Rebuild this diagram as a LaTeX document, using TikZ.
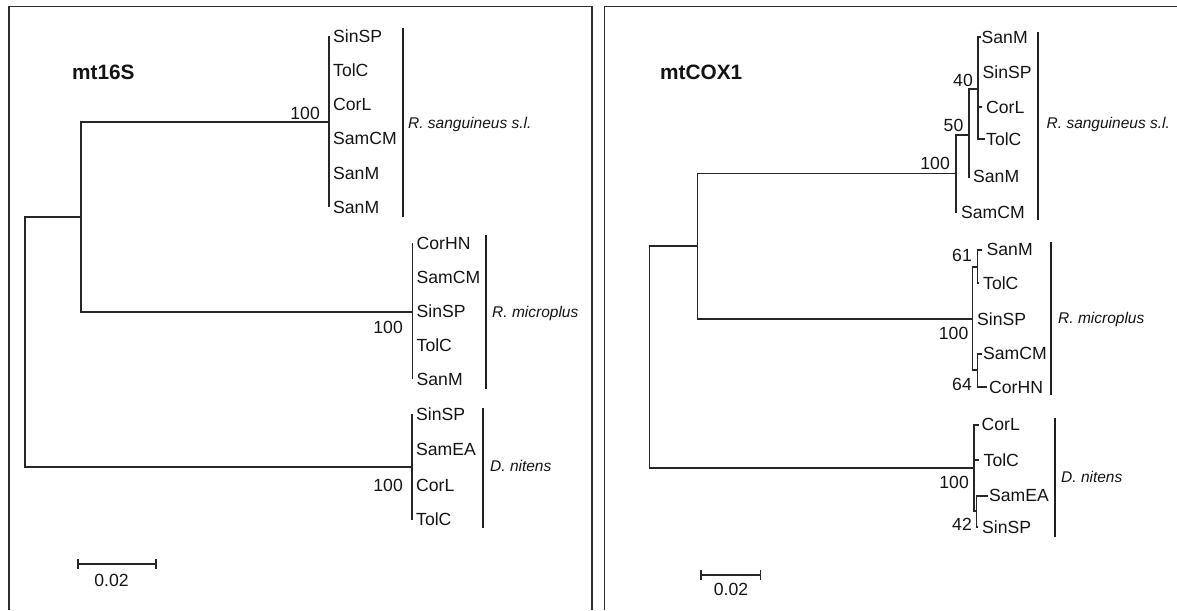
\documentclass[tikz,border=0pt]{standalone}
\usepackage{fontspec}
\setmainfont{Liberation Sans}
\newcommand\fTip{\fontsize{17.6}{20}\selectfont}
\newcommand\fClade{\fontsize{15.5}{18}\selectfont\itshape}
\newcommand\fTitle{\fontsize{20.8}{24}\selectfont\bfseries}
\tikzset{
  tree/.style={line width=1.2pt, draw=black!85},
  cbar/.style={line width=2.3pt, draw=black!88},
  frame/.style={line width=1.5pt, draw=black!82},
  tip/.style={anchor=west, inner sep=0pt, font=\fTip, text=black!92, text height=12.7pt, text depth=0pt},
  boot/.style={anchor=east, inner sep=0pt, font=\fTip, text=black!92, text height=12.6pt, text depth=0pt},
  clade/.style={anchor=west, inner sep=0pt, font=\fClade, text=black!92, text height=11.1pt, text depth=0pt},
  ttl/.style={anchor=west, inner sep=0pt, font=\fTitle, text=black!92, text height=14.9pt, text depth=0pt},
}
\begin{document}
\begin{tikzpicture}[x=1pt,y=-1pt]
\useasboundingbox (0,0) rectangle (1177,610);
% frames
\coordinate (fa1) at (9,610); \coordinate (fa2) at (9,6.5); \coordinate (fa3) at (592,6.5); \coordinate (fa4) at (592,610);
\draw[frame] (fa1) -- (fa2) -- (fa3) -- (fa4);
\coordinate (fb1) at (604.4,610); \coordinate (fb2) at (604.4,6.5); \coordinate (fb3) at (1177,6.5);
\draw[frame] (fb1) -- (fb2) -- (fb3);

% ================= LEFT: mt16S =================
\node[ttl] (t16) at (72,72) {mt16S};
\coordinate (Lroot) at (25,342);
\coordinate (LA) at (81,217);
\coordinate (LS) at (329,122);
\coordinate (LM) at (412.7,312);
\coordinate (LD) at (412,467);
\draw[tree] (LA) -| (Lroot) |- (LD);
\draw[tree] (LS) -| (LA) |- (LM);
% R. sanguineus
\coordinate (ls1) at (329,36); \coordinate (ls6) at (329,207);
\draw[tree] (ls1) -- (ls6);
\node[tip] (lsa) at (333,36) {SinSP};
\node[tip] (lsb) at (333,70.2) {TolC};
\node[tip] (lsc) at (333,104.4) {CorL};
\node[tip] (lsd) at (333,138.6) {SamCM};
\node[tip] (lse) at (333,172.8) {SanM};
\node[tip] (lsf) at (333,207) {SanM};
\node[boot] (lsbs) at (320,113) {100};
\coordinate (lsb1) at (403.3,28); \coordinate (lsb2) at (403.3,217);
\draw[cbar] (lsb1) -- (lsb2);
\node[clade] (lscl) at (408,123) {R. sanguineus s.l.};
% R. microplus
\coordinate (lm1) at (412.7,243); \coordinate (lm5) at (412.7,379);
\draw[tree] (lm1) -- (lm5);
\node[tip] (lma) at (416.5,243) {CorHN};
\node[tip] (lmb) at (416.5,277) {SamCM};
\node[tip] (lmc) at (416.5,311) {SinSP};
\node[tip] (lmd) at (416.5,345) {TolC};
\node[tip] (lme) at (416.5,379) {SanM};
\node[boot] (lmbs) at (403,327) {100};
\coordinate (lmb1) at (485.7,235); \coordinate (lmb2) at (485.7,389);
\draw[cbar] (lmb1) -- (lmb2);
\node[clade] (lmcl) at (492,312) {R. microplus};
% D. nitens
\coordinate (ld1) at (412,414); \coordinate (ld4) at (412,520);
\draw[tree] (ld1) -- (ld4);
\node[tip] (lda) at (416,414) {SinSP};
\node[tip] (ldb) at (416,449) {SamEA};
\node[tip] (ldc) at (416,485) {CorL};
\node[tip] (ldd) at (416,519) {TolC};
\node[boot] (ldbs) at (403,485) {100};
\coordinate (ldb1) at (483.3,408); \coordinate (ldb2) at (483.3,528);
\draw[cbar] (ldb1) -- (ldb2);
\node[clade] (ldcl) at (490,466) {D. nitens};
% scale
\coordinate (lsc1) at (78,564); \coordinate (lsc2) at (156,564);
\draw[tree] (lsc1) -- (lsc2);
\draw[tree] ([yshift=-5pt]lsc1) -- ([yshift=5pt]lsc1);
\draw[tree] ([yshift=-5pt]lsc2) -- ([yshift=5pt]lsc2);
\node[tip, anchor=center] (lscl) at (111.5,580) {0.02};

% ================= RIGHT: mtCOX1 =================
\node[ttl] (tcox) at (660,72) {mtCOX1};
\coordinate (Rroot) at (649.6,357);
\coordinate (RA) at (697.4,246);
\coordinate (RS) at (956,173.5);
\coordinate (R50) at (969,135);
\coordinate (R40) at (978,89);
\coordinate (RM) at (972.7,319);
\coordinate (R61) at (977.3,267);
\coordinate (R64) at (977.3,370);
\coordinate (RD) at (974,468);
\coordinate (R42) at (976.8,511);
\draw[tree] (RA) -| (Rroot) |- (RD);
\draw[tree] (RS) -| (RA) |- (RM);
% R. sanguineus
\coordinate (rsT6) at (956.5,212);
\draw[tree] (R50) -| (RS) |- (rsT6);
\coordinate (rsT5) at (969.5,177);
\draw[tree] (R40) -| (R50) |- (rsT5);
\coordinate (rsT1) at (981,37);
\coordinate (rsT3) at (982,107);
\coordinate (rsT4) at (985,139);
\draw[tree] (rsT1) -| (R40) |- (rsT4);
\draw[tree] (rsT3) -- (rsT3 -| R40);
\node[tip] (rsa) at (981.5,37) {SanM};
\node[tip] (rsb) at (982.5,72) {SinSP};
\node[tip] (rsc) at (986,107) {CorL};
\node[tip] (rsd) at (986,139) {TolC};
\node[tip] (rse) at (973,176) {SanM};
\node[tip] (rsf) at (961,212) {SamCM};
\node[boot] (rb40) at (973,80) {40};
\node[boot] (rb50) at (963.5,125) {50};
\node[boot] (rb100) at (950,163) {100};
\coordinate (rsb1) at (1038.3,32); \coordinate (rsb2) at (1038.3,220);
\draw[cbar] (rsb1) -- (rsb2);
\node[clade] (rscl) at (1046.5,123) {R. sanguineus s.l.};
% R. microplus
\draw[tree] (R61) -| (RM) |- (R64);
\coordinate (rmT1) at (981.7,250);
\coordinate (rmT2) at (978.5,283);
\draw[tree] (rmT1) -| (R61) |- (rmT2);
\coordinate (rmT4) at (981.7,354);
\coordinate (rmT5) at (986.5,387);
\draw[tree] (rmT4) -| (R64) |- (rmT5);
\node[tip] (rma) at (986.5,249) {SanM};
\node[tip] (rmb) at (983,283) {TolC};
\node[tip] (rmc) at (977,319) {SinSP};
\node[tip] (rmd) at (983,353) {SamCM};
\node[tip] (rme) at (989,387) {CorHN};
\node[boot] (rb61) at (972,255) {61};
\node[boot] (rbm100) at (968.5,333) {100};
\node[boot] (rb64) at (972,384) {64};
\coordinate (rmb1) at (1051,242); \coordinate (rmb2) at (1051,395);
\draw[cbar] (rmb1) -- (rmb2);
\node[clade] (rmcl) at (1058,318) {R. microplus};
% D. nitens
\coordinate (rdT1) at (978.5,425);
\coordinate (rdT2) at (978.5,460);
\draw[tree] (rdT1) -| (RD) |- (R42);
\draw[tree] (rdT2) -- (rdT2 -| RD);
\coordinate (rdT3) at (987.5,496);
\coordinate (rdT4) at (977.5,527);
\draw[tree] (rdT3) -| (R42) |- (rdT4);
\node[tip] (rda) at (981.5,424) {CorL};
\node[tip] (rdb) at (983.5,460) {TolC};
\node[tip] (rdc) at (989,495) {SamEA};
\node[tip] (rdd) at (982,527) {SinSP};
\node[boot] (rdbs) at (969,482) {100};
\node[boot] (rb42) at (972,524) {42};
\coordinate (rdb1) at (1055,418); \coordinate (rdb2) at (1055,537);
\draw[cbar] (rdb1) -- (rdb2);
\node[clade] (rdcl) at (1061,477) {D. nitens};
% scale
\coordinate (rsc1) at (701,575); \coordinate (rsc2) at (760.7,575);
\draw[tree] (rsc1) -- (rsc2);
\draw[tree] ([yshift=-5pt]rsc1) -- ([yshift=5pt]rsc1);
\draw[tree] ([yshift=-5pt]rsc2) -- ([yshift=5pt]rsc2);
\node[tip, anchor=center] (rscl) at (731,589) {0.02};
\end{tikzpicture}
\end{document}
